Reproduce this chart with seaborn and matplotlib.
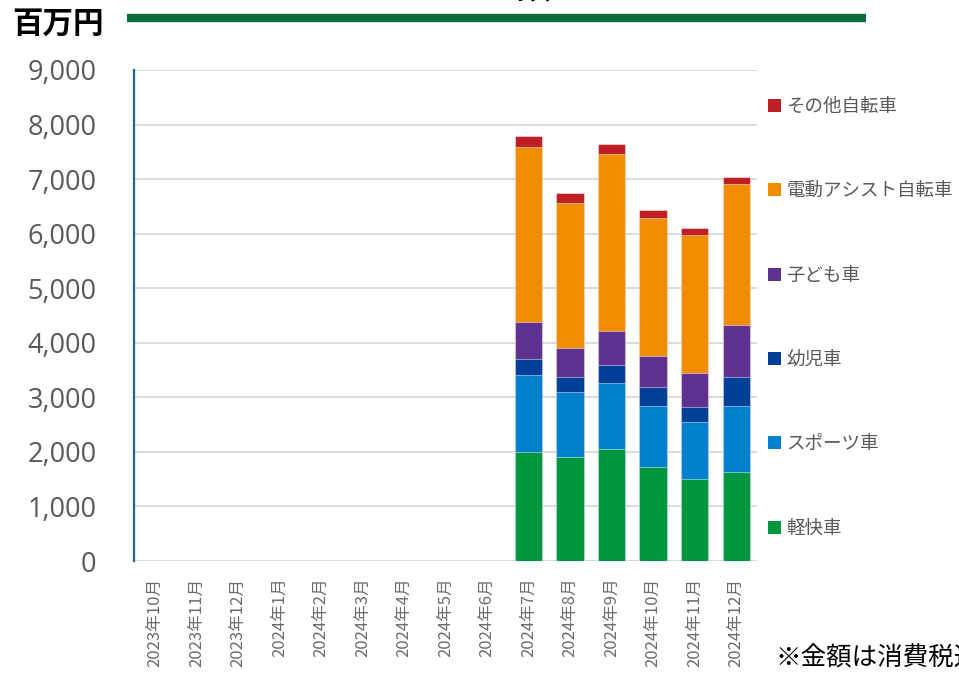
import numpy as np
import pandas as pd
import matplotlib
matplotlib.use("Agg")
import matplotlib.pyplot as plt
from matplotlib.patches import Patch
from matplotlib.lines import Line2D
import seaborn as sns

# ---- data (百万円) ----
months = ["2023年10月", "2023年11月", "2023年12月", "2024年1月", "2024年2月",
          "2024年3月", "2024年4月", "2024年5月", "2024年6月", "2024年7月",
          "2024年8月", "2024年9月", "2024年10月", "2024年11月", "2024年12月"]
nan = np.nan
keikai = [nan, nan, nan, nan, nan, nan, nan, nan, nan, 2000, 1900, 2047, 1717, 1497, 1631]
sports = [nan, nan, nan, nan, nan, nan, nan, nan, nan, 1410, 1197, 1215, 1124, 1051, 1210]
youji = [nan, nan, nan, nan, nan, nan, nan, nan, nan, 293, 270, 325, 343, 281, 526]
kodomo = [nan, nan, nan, nan, nan, nan, nan, nan, nan, 684, 537, 634, 579, 611, 959]
dendo = [nan, nan, nan, nan, nan, nan, nan, nan, nan, 3202, 2658, 3244, 2518, 2535, 2590]
sonota = [nan, nan, nan, nan, nan, nan, nan, nan, nan, 207, 183, 184, 159, 135, 128]

series_names = ["軽快車", "スポーツ車", "幼児車", "子ども車", "電動アシスト自転車", "その他自転車"]
series_values = [keikai, sports, youji, kodomo, dendo, sonota]
colors = ["#00963f", "#0080cc", "#003f98", "#5f3190", "#f08c00", "#be1e24"]
yticks = [0, 1000, 2000, 3000, 4000, 5000, 6000, 7000, 8000, 9000]

JP = ["Noto Sans CJK JP", "DejaVu Sans"]
GRAY = "#595959"

sns.set_theme(style="white")
plt.rcParams["font.family"] = JP

df = pd.DataFrame({"month": months})
running = np.zeros(len(months))
for name, vals in zip(series_names, series_values):
    running = running + np.asarray(vals, dtype=float)
    df[name] = running

fig = plt.figure(figsize=(9.59, 6.73), dpi=100)
ax = fig.add_axes([134 / 959, 1 - 561 / 673, 623 / 959, 491 / 673])

# stacked bars: draw cumulative totals from the top series down
for name, c in reversed(list(zip(series_names, colors))):
    sns.barplot(data=df, x="month", y=name, order=months, color=c,
                saturation=1, width=0.66, errorbar=None,
                edgecolor=(1, 1, 1, 0.45), linewidth=0.8, ax=ax, zorder=3)

ax.set_xlim(-0.5, len(months) - 0.5)
ax.set_ylim(0, 9000)
ax.set_yticks(yticks)
ax.set_yticklabels([f"{v:,}" for v in yticks], fontsize=19.5,
                   family=["Open Sans", "DejaVu Sans"], color=GRAY)
ax.set_xticks(range(len(months)))
ax.set_xticklabels(months, rotation=90, fontsize=12, color="#6b6b6b", va="top")
ax.tick_params(axis="y", length=0, pad=27)
ax.tick_params(axis="x", length=0, pad=12)
ax.set_xlabel("")
ax.set_ylabel("")
ax.grid(axis="y", color="#d9d9d9", linewidth=1.3, zorder=0)
ax.set_axisbelow(True)
for side in ["top", "right", "bottom"]:
    ax.spines[side].set_visible(False)
ax.spines["left"].set_color("#1f6391")
ax.spines["left"].set_linewidth(1.6)
ax.spines["left"].set_zorder(4)

# legend on the right, top entry = top of stack
handles = [Patch(facecolor=c, edgecolor="none") for c in reversed(colors)]
labels = list(reversed(series_names))
fig.legend(handles, labels, loc="upper left",
           bbox_to_anchor=(768 / 959, 1 - 98 / 673), frameon=False,
           fontsize=13.3, labelcolor=GRAY, handlelength=0.7, handleheight=0.7,
           handletextpad=0.3, labelspacing=3.59, borderaxespad=0, borderpad=0)

# header: unit label, green rule and title
fig.text(12 / 959, 1 - 24 / 673, "百万円", fontsize=22, fontweight="bold",
         color="black", va="center", ha="left")
fig.add_artist(Line2D([127 / 959, 866 / 959], [1 - 18 / 673, 1 - 18 / 673],
                      transform=fig.transFigure, color="#0b6e38",
                      linewidth=6, solid_capstyle="butt"))
fig.text(515 / 959, 1 + 2 / 673, "金額", fontsize=26, fontweight="bold",
         color="black", ha="center", va="baseline")

fig.text(775 / 959, 1 - 666 / 673, "※金額は消費税込み", fontsize=18.4,
         color="black", ha="left", va="baseline")

fig.savefig("out.png", dpi=100)
